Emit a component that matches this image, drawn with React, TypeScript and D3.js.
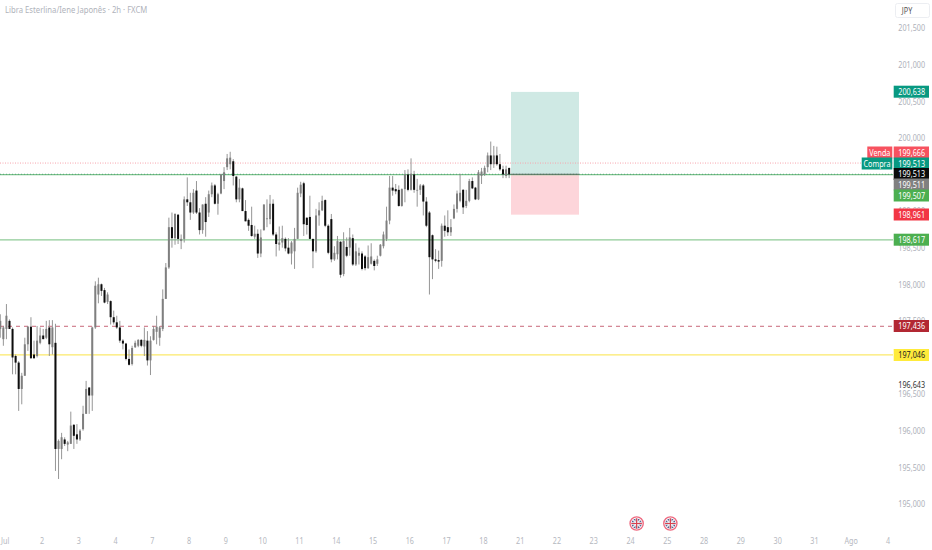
import React from 'react';
import * as d3 from 'd3';

const WIDTH = 932;
const HEIGHT = 550;

// 2h bars, oldest first
const highs = [
  197.60, 197.44, 197.74, 197.53, 197.42, 197.05, 196.96, 196.80, 197.28, 197.44,
  197.56, 197.24, 197.44, 197.42, 197.40, 197.51, 197.52, 197.52, 197.47, 195.89,
  195.98, 195.92, 195.87, 196.27, 196.10, 196.10, 196.03, 196.35, 196.69, 196.60,
  197.43, 198.05, 198.10, 198.02, 197.96, 197.90, 197.79, 197.65, 197.58, 197.51,
  197.26, 197.21, 197.12, 197.17, 197.24, 197.26, 197.26, 197.42, 197.37, 197.30,
  197.44, 197.58, 197.44, 197.94, 198.30, 198.92, 198.99, 198.98, 198.97, 198.69,
  199.21, 199.47, 199.26, 199.31, 199.42, 199.05, 199.10, 199.20, 199.29, 199.40,
  199.38, 199.26, 199.52, 199.61, 199.79, 199.82, 199.72, 199.49, 199.45, 199.33,
  199.16, 198.91, 199.07, 198.81, 198.76, 198.76, 199.10, 199.17, 199.23, 199.17,
  198.72, 198.80, 198.81, 198.65, 198.64, 198.60, 198.78, 199.33, 199.41, 199.41,
  198.92, 199.22, 198.63, 199.04, 199.13, 199.22, 199.17, 198.83, 198.97, 198.53,
  198.67, 198.60, 198.72, 198.65, 198.78, 198.69, 198.57, 198.51, 198.46, 198.41,
  198.54, 198.57, 198.35, 198.40, 198.56, 198.73, 199.07, 199.49, 199.49, 199.38,
  199.36, 199.32, 199.57, 199.58, 199.73, 199.56, 199.45, 199.38, 199.38, 199.20,
  199.01, 198.69, 198.49, 198.47, 198.84, 198.95, 199.02, 198.90, 199.10, 199.29,
  199.52, 199.31, 199.30, 199.45, 199.47, 199.34, 199.57, 199.60, 199.63, 199.81,
  199.96, 199.90, 199.89, 199.79, 199.63, 199.63, 199.60,
];
const lows = [
  197.28, 197.17, 197.26, 197.40, 196.78, 196.78, 196.28, 196.37, 196.76, 197.10,
  196.99, 196.99, 197.01, 197.19, 197.26, 197.26, 197.03, 197.05, 195.46, 195.35,
  195.62, 195.80, 195.73, 195.83, 195.76, 195.83, 195.87, 196.01, 196.24, 196.24,
  196.28, 197.40, 197.75, 197.85, 197.75, 197.74, 197.46, 197.46, 197.40, 197.21,
  197.12, 196.97, 196.90, 196.90, 197.14, 197.15, 197.15, 197.03, 196.90, 196.77,
  197.24, 197.19, 197.17, 197.37, 197.81, 198.22, 198.51, 198.55, 198.56, 198.49,
  198.58, 199.08, 198.89, 198.97, 198.97, 198.69, 198.70, 198.66, 198.93, 199.20,
  199.10, 198.96, 199.24, 199.31, 199.57, 199.58, 199.36, 199.13, 199.13, 199.01,
  198.87, 198.74, 198.66, 198.63, 198.37, 198.38, 198.74, 198.79, 198.83, 198.67,
  198.39, 198.47, 198.51, 198.46, 198.42, 198.28, 198.22, 198.63, 199.20, 198.67,
  198.69, 198.63, 198.23, 198.44, 198.81, 199.01, 198.79, 198.42, 198.31, 198.33,
  198.35, 198.10, 198.12, 198.38, 198.40, 198.26, 198.26, 198.28, 198.20, 198.20,
  198.22, 198.28, 198.20, 198.26, 198.39, 198.50, 198.60, 198.83, 199.22, 199.24,
  199.07, 199.07, 199.13, 199.28, 199.29, 199.26, 199.07, 199.23, 198.95, 198.79,
  197.87, 198.08, 198.31, 198.22, 198.25, 198.66, 198.67, 198.67, 198.90, 198.99,
  199.13, 198.97, 199.05, 199.13, 199.31, 199.16, 199.16, 199.38, 199.49, 199.54,
  199.57, 199.60, 199.63, 199.56, 199.46, 199.46, 199.46,
];
const opens = [
  197.40, 197.26, 197.40, 197.51, 197.40, 197.03, 196.94, 196.58, 196.76, 197.19,
  197.43, 197.05, 197.03, 197.21, 197.31, 197.28, 197.42, 197.15, 197.21, 195.76,
  195.76, 195.89, 195.82, 195.83, 196.09, 195.96, 195.89, 196.03, 196.24, 196.60,
  196.49, 197.42, 197.87, 198.01, 197.93, 197.77, 197.78, 197.56, 197.49, 197.42,
  197.24, 197.20, 196.99, 196.92, 197.15, 197.17, 197.25, 197.16, 197.24, 196.97,
  197.25, 197.36, 197.28, 197.40, 197.81, 198.24, 198.79, 198.64, 198.96, 198.60,
  198.63, 199.17, 199.13, 198.99, 199.29, 198.99, 198.75, 199.11, 198.99, 199.24,
  199.36, 199.11, 199.25, 199.42, 199.61, 199.65, 199.69, 199.48, 199.17, 199.32,
  199.01, 198.89, 198.82, 198.66, 198.70, 198.43, 198.75, 198.90, 198.90, 199.11,
  198.69, 198.55, 198.58, 198.63, 198.51, 198.43, 198.46, 198.63, 199.25, 199.39,
  198.92, 198.93, 198.63, 198.46, 198.95, 199.02, 199.16, 198.81, 198.90, 198.35,
  198.42, 198.59, 198.15, 198.52, 198.51, 198.64, 198.28, 198.40, 198.43, 198.39,
  198.23, 198.29, 198.33, 198.29, 198.40, 198.53, 198.63, 198.88, 199.33, 199.31,
  199.30, 199.08, 199.31, 199.51, 199.30, 199.51, 199.29, 199.30, 199.36, 199.14,
  198.99, 198.68, 198.35, 198.34, 198.33, 198.81, 198.79, 198.72, 198.91, 199.04,
  199.15, 199.30, 199.08, 199.15, 199.42, 199.33, 199.17, 199.49, 199.51, 199.61,
  199.77, 199.65, 199.77, 199.65, 199.58, 199.49, 199.60,
];
const closes = [
  197.51, 197.42, 197.58, 197.40, 197.01, 196.94, 196.58, 196.76, 197.19, 197.43,
  197.00, 197.00, 197.24, 197.31, 197.26, 197.40, 197.19, 197.42, 195.76, 195.87,
  195.92, 195.83, 195.85, 196.08, 195.94, 195.89, 196.01, 196.24, 196.58, 196.49,
  197.42, 197.99, 198.01, 197.92, 197.76, 197.87, 197.56, 197.49, 197.42, 197.24,
  197.20, 196.99, 196.91, 197.14, 197.21, 197.25, 197.17, 197.25, 196.97, 197.24,
  197.40, 197.43, 197.42, 197.81, 198.24, 198.79, 198.64, 198.97, 198.63, 198.63,
  199.17, 199.13, 198.99, 199.26, 198.99, 198.75, 199.10, 198.86, 199.24, 199.36,
  199.11, 199.24, 199.51, 199.54, 199.73, 199.74, 199.49, 199.17, 199.33, 199.01,
  198.87, 198.81, 198.67, 198.70, 198.43, 198.65, 199.10, 198.91, 199.11, 198.69,
  198.56, 198.58, 198.64, 198.50, 198.43, 198.58, 198.63, 199.26, 199.37, 198.83,
  198.82, 198.63, 198.46, 198.95, 199.02, 199.15, 198.81, 198.44, 198.35, 198.44,
  198.60, 198.14, 198.60, 198.40, 198.65, 198.28, 198.46, 198.44, 198.22, 198.23,
  198.38, 198.39, 198.26, 198.35, 198.55, 198.69, 198.88, 199.33, 199.29, 199.28,
  199.08, 199.31, 199.51, 199.30, 199.52, 199.30, 199.30, 199.36, 199.14, 198.81,
  198.38, 198.35, 198.33, 198.32, 198.81, 198.74, 198.72, 198.79, 199.04, 199.25,
  199.26, 199.06, 199.15, 199.42, 199.32, 199.17, 199.54, 199.55, 199.60, 199.77,
  199.65, 199.77, 199.65, 199.58, 199.51, 199.58, 199.51,
];

const dayLabels = ['Jul', '2', '3', '4', '7', '8', '9', '10', '11', '14', '15', '16', '17', '18', '21', '22', '23', '24', '25', '28', '29', '30', '31', 'Ago', '4'];
const barsPerDay = 12;
const priceTicks = [201.5, 201, 200.5, 200, 199, 198.5, 198, 197.5, 196.5, 196, 195.5, 195];
const eventBars = [206, 217];

const tpPrice = 200.638;
const entryPrice = 199.513;
const slPrice = 198.961;

const fmt = (p: number) => p.toFixed(3).replace('.', ',');
const FONT = '"Noto Sans", sans-serif';

const y = d3.scaleLinear().domain([201.5, 195]).range([28.8, 504.6]);
// x runs in bars, day ticks sit every 12 bars
const x = d3.scaleLinear().domain([0, 288]).range([5.2, 888]);
const firstBar = -1.6;

const tags = [
  { price: 200.638, bg: '#089981', fg: '#fff', py: 91.7 },
  { price: 199.666, bg: '#f7525f', fg: '#fff', py: 152.5 },
  { price: 199.513, bg: '#089981', fg: '#fff', py: 163.5 },
  { price: 199.513, bg: '#0b0b0b', fg: '#fff', py: 174 },
  { price: 199.511, bg: '#808080', fg: '#fff', py: 184.5 },
  { price: 199.507, bg: '#4caf50', fg: '#fff', py: 195.5 },
  { price: 198.961, bg: '#f23645', fg: '#fff', py: 214.5 },
  { price: 198.617, bg: '#4caf50', fg: '#fff', py: 239.7 },
  { price: 197.436, bg: '#b22833', fg: '#fff', py: 326 },
  { price: 197.046, bg: '#ffeb3b', fg: '#222', py: 355 },
];

// the chart's font is narrower than any installed one, so squeeze it sideways
const Label: React.FC<{ x: number; y: number; fill: string; anchor?: string; size?: number; children: React.ReactNode }> = ({ x: lx, y: ly, fill, anchor = 'end', size = 8.8, children }) => (
  <text transform={`translate(${lx},${ly}) scale(0.82,1)`} fontSize={size} fill={fill} textAnchor={anchor}>{children}</text>
);

const App: React.FC = () => {
  const axisRight = 893;
  return (
    <svg width={WIDTH} height={HEIGHT} style={{ position: 'absolute', left: 0, top: 0, background: '#fff', fontFamily: FONT }}>
      <defs>
        <filter id="soft" x="-2%" y="-2%" width="104%" height="104%">
          <feGaussianBlur stdDeviation="0.35" />
        </filter>
        <clipPath id="flag"><circle r={5.3} /></clipPath>
      </defs>

      {/* position box */}
      <rect x={511} width={68} y={y(tpPrice)} height={y(entryPrice) - y(tpPrice)} fill="#cfe9e4" />
      <rect x={511} width={68} y={y(entryPrice)} height={y(slPrice) - y(entryPrice)} fill="#fdd5da" />

      {/* horizontal levels */}
      <line x1={0} x2={axisRight} y1={y(199.666)} y2={y(199.666)} stroke="#f7a5ad" strokeDasharray="1 1.5" />
      <line x1={0} x2={axisRight} y1={y(199.507)} y2={y(199.507)} stroke="#7cc48a" strokeWidth={1.2} />
      <line x1={0} x2={axisRight} y1={y(199.513)} y2={y(199.513)} stroke="#3f8f70" strokeDasharray="1 2" strokeWidth={0.7} />
      <line x1={511} x2={579} y1={y(199.513)} y2={y(199.513)} stroke="#555" strokeWidth={0.8} />
      <line x1={0} x2={axisRight} y1={y(198.617)} y2={y(198.617)} stroke="#8fcb97" strokeWidth={1.1} />
      <line x1={0} x2={axisRight} y1={y(197.436)} y2={y(197.436)} stroke="#c9687a" strokeDasharray="4 4" strokeWidth={1} />
      <line x1={0} x2={axisRight} y1={y(197.046)} y2={y(197.046)} stroke="#fbe96a" strokeWidth={1.2} />

      {/* candles */}
      <g filter="url(#soft)">
        {highs.map((h, i) => {
          const cx = x(firstBar + i);
          const up = closes[i] >= opens[i];
          const top = y(Math.max(opens[i], closes[i]));
          const bottom = y(Math.min(opens[i], closes[i]));
          return (
            <g key={i}>
              <line x1={cx} x2={cx} y1={y(h)} y2={y(lows[i])} stroke="#8a8a8a" strokeWidth={0.9} />
              <rect x={cx - 1} width={2} y={top} height={Math.max(bottom - top, 0.8)} fill={up ? '#7f7f7f' : '#0a0a0a'} />
            </g>
          );
        })}
      </g>

      {/* title and currency */}
      <Label x={5} y={13} fill="#b0b3bb" anchor="start" size={9.4}>Libra Esterlina/Iene Japonês · 2h · FXCM</Label>
      <rect x={895.5} y={3.5} width={34} height={14} rx={2} fill="#fff" stroke="#eceef2" />
      <Label x={907} y={13.6} fill="#555" anchor="middle">JPY</Label>

      {/* price axis */}
      {priceTicks.map(p => (
        <Label key={p} x={925} y={y(p) + 2.6} fill="#aeb1b9">{fmt(p)}</Label>
      ))}
      <Label x={925} y={387.6} fill="#333">196,643</Label>

      {/* order labels */}
      <rect x={867.3} y={146.5} width={25} height={12} fill="#f7525f" />
      <Label x={879.8} y={155.6} fill="#fff" anchor="middle">Venda</Label>
      <rect x={861.7} y={157.5} width={30.6} height={12} fill="#089981" />
      <Label x={877} y={166.6} fill="#fff" anchor="middle">Compra</Label>

      {tags.map((t, i) => (
        <g key={i}>
          <rect x={893.7} y={t.py - 6} width={35.3} height={12} fill={t.bg} />
          <Label x={925} y={t.py + 3.1} fill={t.fg}>{fmt(t.price)}</Label>
        </g>
      ))}

      {/* time axis */}
      {dayLabels.map((d, i) => (
        <Label key={i} x={x(i * barsPerDay)} y={544} fill="#b5b8c0" anchor="middle">{d}</Label>
      ))}

      {/* economic events */}
      {eventBars.map(b => (
        <g key={b} transform={`translate(${x(b)},523.5)`}>
          <circle r={6.6} fill="#fff" stroke="#ee6a80" strokeWidth={1.4} />
          <g clipPath="url(#flag)">
            <circle r={5.3} fill="#5a5f8c" />
            <path d="M-6,-6L6,6M6,-6L-6,6" stroke="#e8e8ee" strokeWidth={1.6} />
            <path d="M-6,0H6M0,-6V6" stroke="#f4f4f4" strokeWidth={2.4} />
            <path d="M-6,0H6M0,-6V6" stroke="#d8404f" strokeWidth={1.2} />
          </g>
        </g>
      ))}
    </svg>
  );
};

export default App;
